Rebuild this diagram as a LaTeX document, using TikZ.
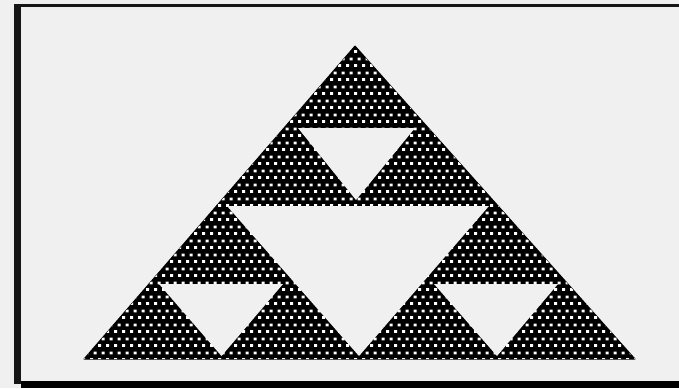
\documentclass[tikz,border=0pt]{standalone}
\usetikzlibrary{patterns}
\definecolor{bggray}{RGB}{240,240,240}
\definecolor{framedark}{RGB}{22,22,22}
\pgfdeclarepatternformonly{halftone}{\pgfpointorigin}{\pgfpoint{7.5pt}{14pt}}{\pgfpoint{7.5pt}{14pt}}{%
  \pgfpathrectangle{\pgfpoint{0pt}{0pt}}{\pgfpoint{3.2pt}{3pt}}%
  \pgfpathrectangle{\pgfpoint{3.75pt}{7pt}}{\pgfpoint{3.2pt}{3pt}}%
  \pgfusepath{fill}%
}
\tikzset{
  blacktri/.style={fill=black, draw=black, line width=1pt, line join=round},
  dots/.style={pattern=halftone, pattern color=white},
  hole/.style={fill=bggray},
}
\begin{document}
\begin{tikzpicture}[x=1pt,y=-1pt]
  % background and bounding box
  \fill[bggray] (0,0) rectangle (679,388);
  \useasboundingbox (0,0) rectangle (679,388);
  % frame
  \fill[framedark] (14,4) rectangle (21,383.5);
  \fill[framedark] (14,4) rectangle (679,7);
  \fill[black] (21,381) rectangle (679,388);
  % outer triangle
  \coordinate (A) at (355,46);
  \coordinate (B) at (84,359);
  \coordinate (C) at (635,359);
  \path[blacktri] (A) -- (B) -- (C) -- cycle;
  \path[dots] (A) -- (B) -- (C) -- cycle;
  % white holes
  \coordinate (m1) at (227,206);
  \coordinate (m2) at (489,206);
  \coordinate (m3) at (359,356);
  \coordinate (t1) at (298,128);
  \coordinate (t2) at (415,128);
  \coordinate (t3) at (356,200);
  \coordinate (l1) at (159,284);
  \coordinate (l2) at (283,284);
  \coordinate (l3) at (221.5,356);
  \coordinate (r1) at (434,284);
  \coordinate (r2) at (558,284);
  \coordinate (r3) at (497,356);
  \path[hole] (m1) -- (m2) -- (m3) -- cycle;
  \path[hole] (t1) -- (t2) -- (t3) -- cycle;
  \path[hole] (l1) -- (l2) -- (l3) -- cycle;
  \path[hole] (r1) -- (r2) -- (r3) -- cycle;
\end{tikzpicture}
\end{document}
